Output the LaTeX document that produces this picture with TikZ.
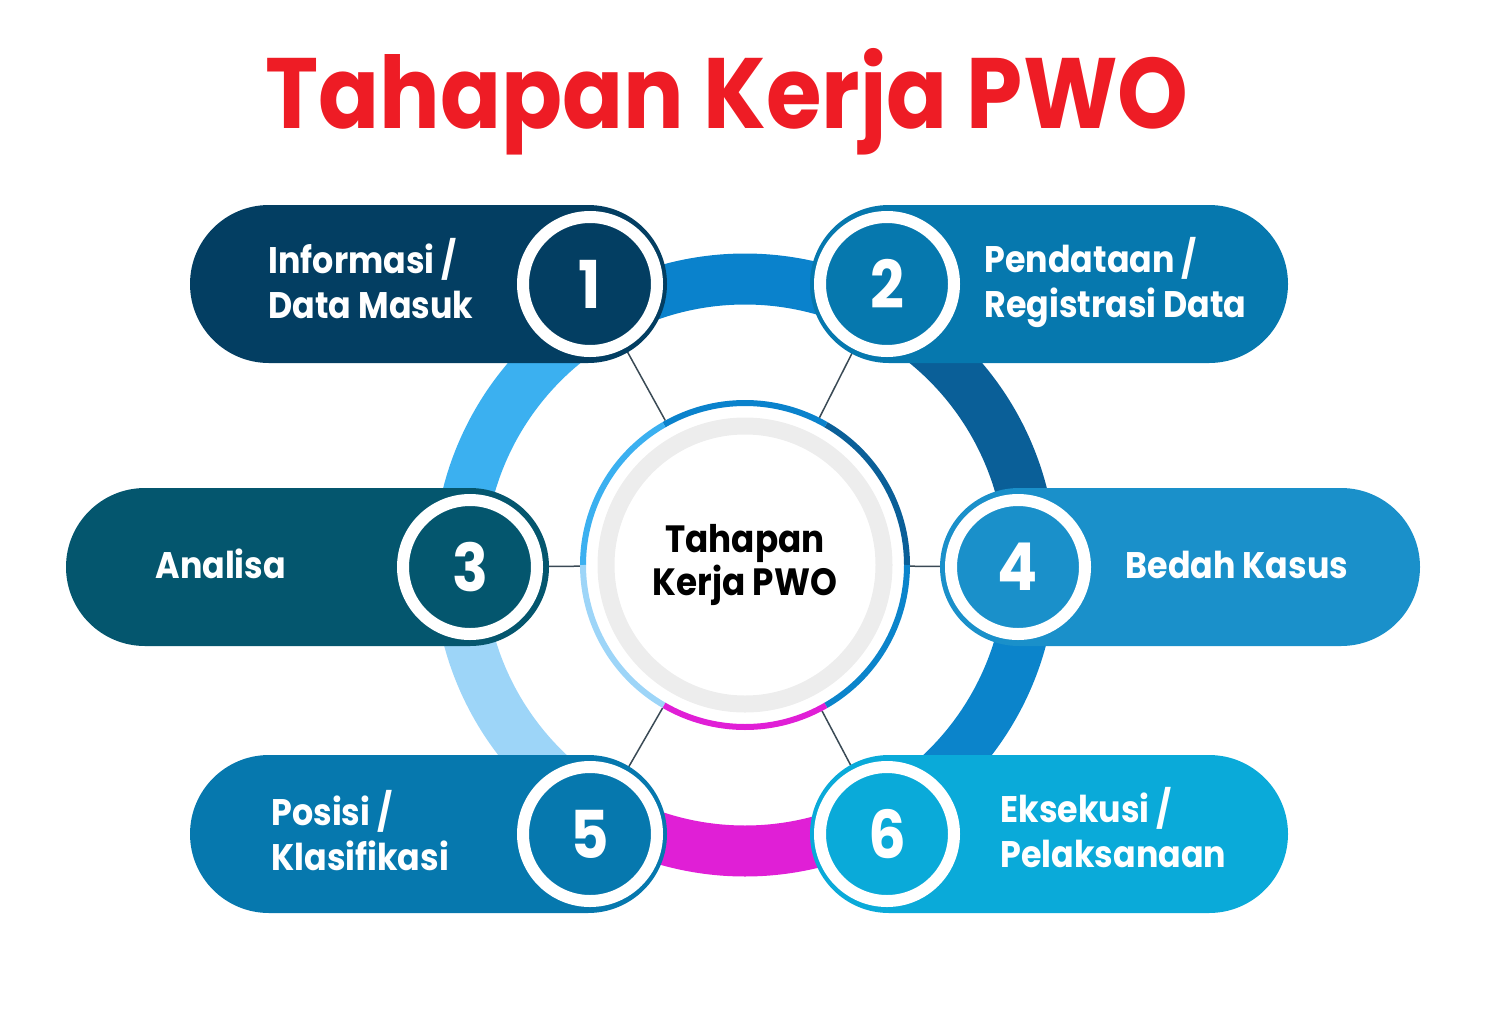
\documentclass[tikz,border=0pt]{standalone}
\usepackage{fontspec}
\setmainfont{Poppins}[FakeStretch=0.9]
\usetikzlibrary{calc}

\definecolor{pillA}{HTML}{033E62}
\definecolor{pillB}{HTML}{0678AE}
\definecolor{pillC}{HTML}{04566E}
\definecolor{pillD}{HTML}{1A90CA}
\definecolor{pillE}{HTML}{0AAAD9}
\definecolor{ringtop}{HTML}{0A82CC}
\definecolor{ringul}{HTML}{3BB0F0}
\definecolor{ringll}{HTML}{9DD5F8}
\definecolor{ringbot}{HTML}{E01FD6}
\definecolor{ringlr}{HTML}{0B84CB}
\definecolor{ringur}{HTML}{0A5F98}
\definecolor{spokegray}{HTML}{3A4A55}
\definecolor{titlered}{HTML}{EE1C25}

\tikzset{
  pill/.style={rounded corners=79pt},
  num/.style={circle, draw=white, line width=12pt, minimum size=134pt, inner sep=0pt,
    text=white, font=\bfseries\fontsize{66}{66}\selectfont},
  lbl/.style={anchor=base west, align=left, text=white, font=\bfseries\fontsize{37}{45}\selectfont},
  ring/.style={line width=51pt},
  thinring/.style={line width=6pt},
  spoke/.style={draw=spokegray, line width=1.5pt},
}

\begin{document}
\begin{tikzpicture}[x=1pt,y=1pt]
\useasboundingbox (0,0) rectangle (1492,-1010);

\newcommand{\ringr}{286}
\newcommand{\hubr}{162}

\coordinate (o) at (745,-565);

% big ring
\draw[ring, ringur]  (o) ++(0:\ringr)   arc (0:60:\ringr);
\draw[ring, ringtop] (o) ++(60:\ringr)  arc (60:120:\ringr);
\draw[ring, ringul]  (o) ++(120:\ringr) arc (120:180:\ringr);
\draw[ring, ringll]  (o) ++(180:\ringr) arc (180:240:\ringr);
\draw[ring, ringbot] (o) ++(240:\ringr) arc (240:300:\ringr);
\draw[ring, ringlr]  (o) ++(300:\ringr) arc (300:360:\ringr);

\node[circle, minimum size=330pt, inner sep=0pt, outer sep=0pt, align=center,
  font=\bfseries\fontsize{38}{43}\selectfont] (hub) at (o) {Tahapan\\Kerja PWO};

\coordinate (c1) at (590,-284);
\coordinate (c2) at (887,-284);
\coordinate (c3) at (470,-567);
\coordinate (c4) at (1018,-567);
\coordinate (c5) at (590,-834);
\coordinate (c6) at (887,-834);

\draw[spoke] (hub) -- (c1);
\draw[spoke] (hub) -- (c2);
\draw[spoke] (hub) -- (c3);
\draw[spoke] (hub) -- (c4);
\draw[spoke] (hub) -- (c5);
\draw[spoke] (hub) -- (c6);

% inner ring
\draw[thinring, ringur]  (o) ++(0:\hubr)   arc (0:60:\hubr);
\draw[thinring, ringtop] (o) ++(60:\hubr)  arc (60:120:\hubr);
\draw[thinring, ringul]  (o) ++(120:\hubr) arc (120:180:\hubr);
\draw[thinring, ringll]  (o) ++(180:\hubr) arc (180:240:\hubr);
\draw[thinring, ringbot] (o) ++(240:\hubr) arc (240:300:\hubr);
\draw[thinring, ringlr]  (o) ++(300:\hubr) arc (300:360:\hubr);
\draw[line width=17pt, black!7] (o) circle (139);

% pills
\fill[pillA, pill] (190,-205) rectangle (667,-363);
\fill[pillB, pill] (810,-205) rectangle (1288,-363);
\fill[pillC, pill] (66,-488) rectangle (549,-646);
\fill[pillD, pill] (940,-488) rectangle (1420,-646);
\fill[pillB, pill] (190,-755) rectangle (667,-913);
\fill[pillE, pill] (810,-755) rectangle (1288,-913);

\node[num, fill=pillA] (n1) at (c1) {1};
\node[num, fill=pillB] (n2) at (c2) {2};
\node[num, fill=pillC] (n3) at (c3) {3};
\node[num, fill=pillD] (n4) at (c4) {4};
\node[num, fill=pillB] (n5) at (c5) {5};
\node[num, fill=pillE] (n6) at (c6) {6};

\node[lbl] (t1) at (265,-318) {Informasi /\\Data Masuk};
\node[lbl] (t2) at (981,-317) {Pendataan /\\Registrasi Data};
\node[lbl] (t3) at (152,-578) {Analisa};
\node[lbl] (t4) at (1122,-578) {Bedah Kasus};
\node[lbl] (t5) at (268,-870) {Posisi /\\Klasifikasi};
\node[lbl] (t6) at (997,-867) {Eksekusi /\\Pelaksanaan};

\node[anchor=base, text=titlered, font=\bfseries\fontsize{100}{100}\selectfont] (title)
  at (727,-128) {Tahapan Kerja PWO};

\end{tikzpicture}
\end{document}
